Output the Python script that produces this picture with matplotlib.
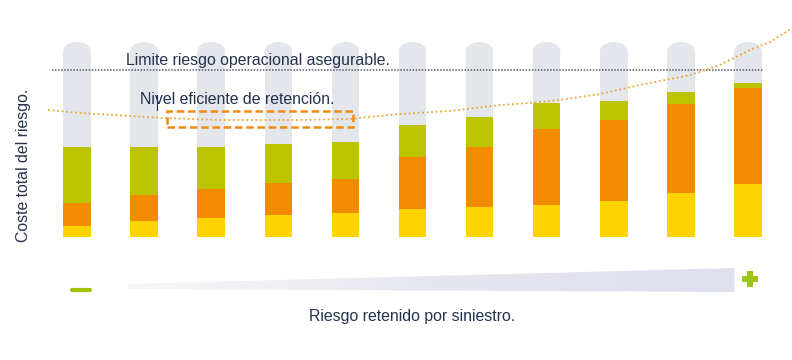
import numpy as np
import matplotlib
matplotlib.use("Agg")
import matplotlib.pyplot as plt
from matplotlib.patches import Ellipse, Rectangle, Polygon

plt.rcParams['font.family'] = ['Liberation Sans', 'DejaVu Sans']

# stacked cost components per retention level (left = low retention)
retencion = list(range(11))
coste_retenido = [11, 16, 19, 22, 24, 28, 30, 32, 36, 44, 53]
coste_volatilidad = [23, 26, 29, 32, 34, 52, 60, 76, 81, 89, 96]
coste_seguro = [56, 48, 42, 39, 37, 32, 30, 26, 19, 12, 5]
tope = 195
limite_asegurable = 167

# total cost curve
curva_x = [-0.43, 0.05, 0.79, 1.28, 2.13, 2.73, 3.32, 4.07, 4.81, 5.56, 6.30,
           6.75, 7.20, 7.79, 8.39, 9.14, 9.58, 10.03, 10.33, 10.66]
curva_y = [127, 124, 121, 119, 117, 117, 117, 118, 123, 126, 132,
           134, 137, 143, 152, 162, 172, 187, 195, 209]

c_gris = '#e3e6eb'
c_verde = '#bcc300'
c_naranja = '#f28b00'
c_amarillo = '#fdd300'
c_texto = '#26324d'

fig = plt.figure(figsize=(7.92, 3.6), dpi=100)
ax = fig.add_axes([0, 0, 1, 1])
ax.set_xlim(-1.1475, 10.656)
ax.set_ylim(-123, 237)
ax.axis('off')

w = 0.41
x = np.array(retencion)
y1 = np.array(coste_retenido)
y2 = np.array(coste_volatilidad)
y3 = np.array(coste_seguro)

# grey capacity columns with rounded top
ax.bar(x, tope - 9, w, color=c_gris, zorder=1)
for xi in x:
    ax.add_patch(Ellipse((xi, tope - 9), w, 18, color=c_gris, zorder=1, lw=0))

ax.bar(x, y1, w, color=c_amarillo, zorder=2)
ax.bar(x, y2, w, bottom=y1, color=c_naranja, zorder=2)
ax.bar(x, y3, w, bottom=y1 + y2, color=c_verde, zorder=2)

ax.plot([-0.373, 10.22], [limite_asegurable, limite_asegurable], color='#5a5f6a',
        lw=1.1, ls=(0, (1, 1)), zorder=3)
ax.text(0.73, limite_asegurable + 2, 'Limite riesgo operacional asegurable.',
        fontsize=11.4, color=c_texto, va='bottom', ha='left', zorder=4)

ax.plot(curva_x, curva_y, color='#eaa53a', lw=1.3, ls=(0, (1, 1.5)), zorder=3)

ax.add_patch(Rectangle((1.341, 110), 2.772, 16, fill=False, ec='#f08a10', lw=1.8,
                       ls=(0, (3, 1.5)), zorder=4))
ax.text(0.94, 137, 'Nivel eficiente de retención.', fontsize=11.4, color=c_texto,
        va='center', ha='left', zorder=4)
ax.plot([1.192, 1.192], [127, 142], color=c_texto, lw=0.8, zorder=5)

ax.text(-0.80, 72, 'Coste total del riesgo.', fontsize=11.4, color=c_texto,
        rotation=90, va='center', ha='center')
ax.text(5.0, -79, 'Riesgo retenido por siniestro.', fontsize=11.4, color=c_texto,
        va='center', ha='center')

# widening grey arrow band under the axis
band = Polygon([(0.76, -52), (9.80, -55), (9.80, -31), (0.76, -47)],
               closed=True, fc='none', ec='none')
ax.add_patch(band)
grad = np.linspace(0, 1, 256).reshape(1, -1)
img = ax.imshow(grad, extent=(0.76, 9.80, -55, -31), aspect='auto',
                cmap=matplotlib.colors.LinearSegmentedColormap.from_list(
                    'banda', ['#f7f7f9', '#e6e6ee', '#dedff0']), zorder=1)
img.set_clip_path(band)

ax.plot([-0.07, 0.19], [-53, -53], color='#9ec400', lw=3,
        solid_capstyle='round')
ax.plot([10.03], [-42], marker='P', ms=11, color='#9cc41a', mew=0)

fig.savefig('out.png', dpi=100)
